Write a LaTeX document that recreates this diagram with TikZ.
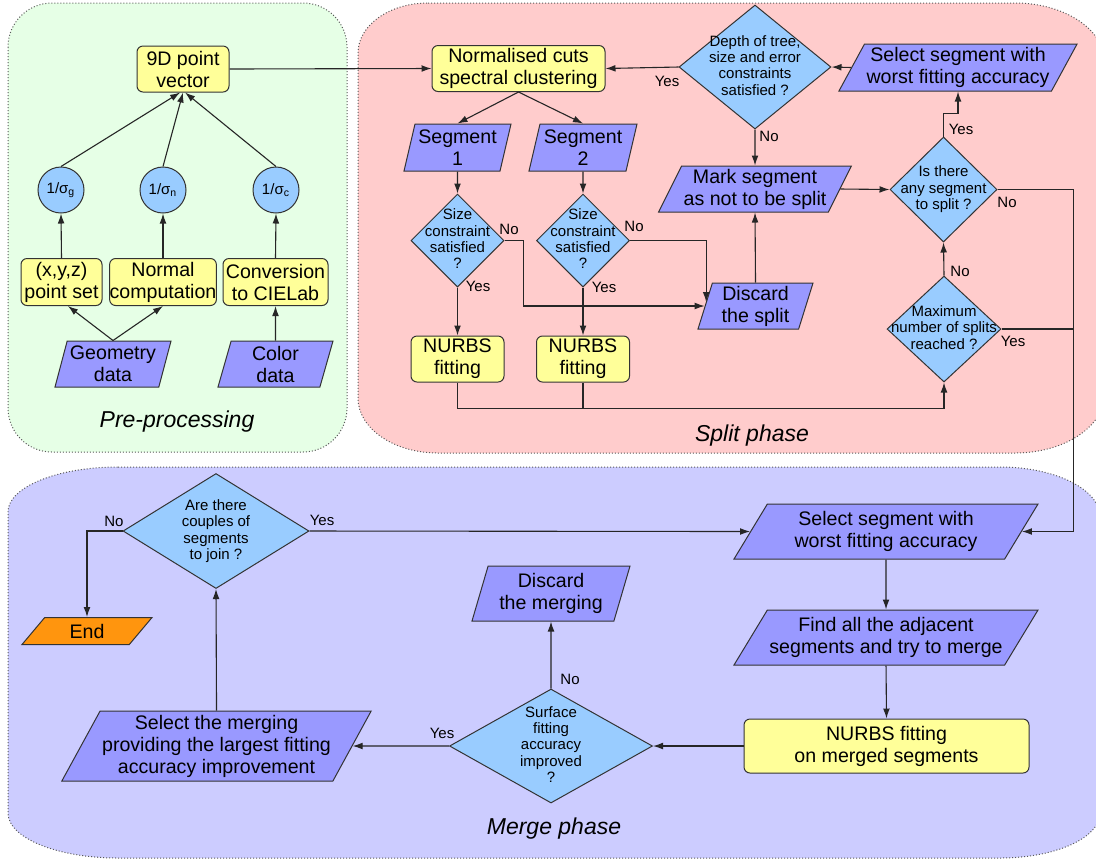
\documentclass[tikz,border=0pt]{standalone}
\usepackage{fontspec}
\setmainfont{Liberation Sans}
\definecolor{cProcess}{HTML}{FFFF99}
\definecolor{cData}{HTML}{9999FF}
\definecolor{cDecision}{HTML}{99CCFF}
\definecolor{cEnd}{HTML}{FF950E}
\definecolor{cPre}{HTML}{E6FFE6}
\definecolor{cSplit}{HTML}{FFCCCC}
\definecolor{cMerge}{HTML}{CCCCFF}
\usepackage{tikz}
\usetikzlibrary{arrows.meta,calc,shapes.geometric}
\newcommand{\decisiontext}[1]{\makebox[0pt]{\smash{\raisebox{-2pt}{\begin{tabular}[c]{@{}c@{}}#1\end{tabular}}}}}

\begin{document}
\begin{tikzpicture}[x=0.5pt, y=-0.5pt, font=\fontsize{9.8}{11}\selectfont,
  box/.style={draw=black!80, line width=0.5pt, align=center, inner sep=1pt},
  process/.style={box, rectangle, rounded corners=3pt, fill=cProcess},
  iobox/.style={box, trapezium, trapezium stretches body, trapezium left angle=#1, trapezium right angle={180-#1}, fill=cData},
  decision/.style={box, diamond, inner sep=0pt, fill=cDecision, font=\fontsize{7.5}{8.2}\selectfont},
  weight/.style={box, circle, minimum size=23pt, fill=cDecision, font=\fontsize{7.5}{9}\selectfont},
  answer/.style={inner sep=0pt, font=\fontsize{7.5}{9}\selectfont},
  phasename/.style={inner sep=0pt, font=\fontsize{11.5}{13}\selectfont\itshape},
  region/.style={draw=black!65, densely dotted, line width=0.5pt},
  flow/.style={draw=black!85, line width=0.55pt, -{Latex[length=5pt,width=3.4pt]}},
  link/.style={draw=black!85, line width=0.55pt}]
\useasboundingbox (0,0) rectangle (1096,859);

\path[region, fill=cPre, rounded corners=22pt] (8,3) rectangle (347,452);
\path[region, fill=cSplit] (428,3) -- (1015,3) arc[start angle=270, end angle=360, x radius=90, y radius=60] -- (1105,393) arc[start angle=0, end angle=90, x radius=90, y radius=60] -- (438,453) arc[start angle=90, end angle=180, x radius=80, y radius=55] -- (358,53) arc[start angle=180, end angle=270, x radius=70, y radius=50] -- cycle;
\path[region, fill=cMerge] (118,467) -- (1000,467) arc[start angle=270, end angle=360, x radius=100, y radius=50] -- (1100,813) arc[start angle=0, end angle=90, x radius=100, y radius=45] -- (118,858) arc[start angle=90, end angle=180, x radius=110, y radius=45] -- (8,512) arc[start angle=180, end angle=270, x radius=110, y radius=45] -- cycle;

% pre-processing
\node[process, minimum width=46pt, minimum height=23pt] (vec9d) at (183,69) {9D point\\vector};
\node[weight] (sigg) at (61,190) {1/σ\textsubscript{g}};
\node[weight] (sign) at (163,190) {1/σ\textsubscript{n}};
\node[weight] (sigc) at (276,190) {1/σ\textsubscript{c}};
\node[process, minimum width=40.5pt, minimum height=23.5pt] (xyz) at (61.5,282) {(x,y,z)\\point set};
\node[process, minimum width=52pt, minimum height=23.5pt, inner xsep=0pt] (normal) at (163,282) {Normal\\computation};
\node[process, minimum width=52.5pt, minimum height=23.5pt] (cielab) at (275.5,282) {Conversion\\to CIELab};
\node[iobox=73, minimum width=58pt, minimum height=23pt] (geom) at (113,364) {Geometry\\data};
\node[iobox=72, minimum width=57.5pt, minimum height=23pt] (color) at (275.5,364) {Color\\data};
\node[phasename] (prelabel) at (177,422) {Pre-processing};

% split phase
\node[process, minimum width=86.5pt, minimum height=23pt] (ncut) at (518.5,68.5) {Normalised cuts\\spectral clustering};
\node[decision, minimum width=76pt, minimum height=62pt] (depth) at (755,67) {\decisiontext{Depth of tree,\\size and error\\constraints\\satisfied ?}};
\node[iobox=60, minimum width=115pt, minimum height=23.5pt] (seltop) at (958,67.5) {Select segment with\\worst fitting accuracy};
\node[iobox=74.5, minimum width=53.5pt, minimum height=23.5pt] (seg1) at (457.5,147.5) {Segment\\1};
\node[iobox=74.5, minimum width=54pt, minimum height=23.5pt] (seg2) at (583,147.5) {Segment\\2};
\node[decision, minimum width=46.5pt, minimum height=46.5pt] (size1) at (457.5,240.5) {\decisiontext{Size\\constraint\\satisfied\\?}};
\node[decision, minimum width=46.5pt, minimum height=46.5pt] (size2) at (583,240.5) {\decisiontext{Size\\constraint\\satisfied\\?}};
\node[process, minimum width=46.5pt, minimum height=23pt] (nurbs1) at (457.5,359) {NURBS\\fitting};
\node[process, minimum width=46.5pt, minimum height=23pt] (nurbs2) at (583,359) {NURBS\\fitting};
\node[iobox=72, minimum width=57.5pt, minimum height=23pt] (discsplit) at (755.5,306) {Discard\\the split};
\node[iobox=62.5, minimum width=92pt, minimum height=23pt] (mark) at (755,189) {Mark segment\\as not to be split};
\node[decision, minimum width=53.5pt, minimum height=52.5pt] (anyseg) at (943.5,189.5) {\decisiontext{Is there\\any segment\\to split ?}};
\node[decision, minimum width=57pt, minimum height=53pt] (maxsplit) at (944,329) {\decisiontext{Maximum\\number of splits\\reached ?}};
\node[phasename] (splitlabel) at (752,436) {Split phase};
\node[answer] (depthyes) at (667,81) {Yes};
\node[answer] (depthno) at (769,136) {No};
\node[answer] (size1no) at (509,229) {No};
\node[answer] (size1yes) at (478,286) {Yes};
\node[answer] (size2no) at (634,226) {No};
\node[answer] (size2yes) at (604,287) {Yes};
\node[answer] (anysegyes) at (961,129) {Yes};
\node[answer] (anysegno) at (1007,202) {No};
\node[answer] (maxsplitno) at (960,271) {No};
\node[answer] (maxsplityes) at (1013,341) {Yes};

% merge phase
\node[decision, minimum width=93pt, minimum height=57.5pt] (couples) at (216,531) {\decisiontext{Are there\\couples of\\segments\\to join ?}};
\node[iobox=39, minimum width=65pt, minimum height=13.5pt, fill=cEnd] (endnode) at (87,631) {End};
\node[iobox=60, minimum width=150.5pt, minimum height=35pt] (selmerge) at (216.5,746) {Select the merging\\providing the largest fitting\\accuracy improvement};
\node[decision, minimum width=101.5pt, minimum height=57pt] (surface) at (551,746) {\decisiontext{Surface\\fitting\\accuracy\\improved\\?}};
\node[iobox=70, minimum width=79pt, minimum height=27.5pt] (discmerge) at (551,593.5) {Discard\\the merging};
\node[iobox=53, minimum width=152pt, minimum height=27.5pt] (selworst) at (886,531.5) {Select segment with\\worst fitting accuracy};
\node[iobox=53, minimum width=152pt, minimum height=27.5pt] (findadj) at (886,637.5) {Find all the adjacent\\segments and try to merge};
\node[process, minimum width=142.5pt, minimum height=27pt] (nurbsm) at (886.5,746) {NURBS fitting\\on merged segments};
\node[phasename] (mergelabel) at (554,829) {Merge phase};
\node[answer] (couplesno) at (114,521) {No};
\node[answer] (couplesyes) at (322,520) {Yes};
\node[answer] (surfaceno) at (570,679) {No};
\node[answer] (surfaceyes) at (442,733) {Yes};

\draw[flow] (geom.north) -- (xyz.-75);
\draw[flow] (geom.north) -- (normal.south);
\draw[flow] (color.north) -- (cielab.south);
\draw[flow] (xyz.north) -- (sigg.south);
\draw[flow] (normal.north) -- (sign.south);
\draw[flow] (cielab.north) -- (sigc.south);
\draw[flow] (sigg.north) -- (vec9d.-97);
\draw[flow] (sign.north) -- (vec9d.south);
\draw[flow] (sigc.north) -- (vec9d.-85);
\draw[flow] (vec9d.east) -- (ncut.west);
\draw[flow] (ncut.south) -- (seg1.north);
\draw[flow] (ncut.south) -- (seg2.north);
\draw[flow] (seg1.south) -- (size1.north);
\draw[flow] (seg2.south) -- (size2.north);
\draw[flow] (size1.south) -- (nurbs1.north);
\draw[flow] (size2.south) -- (nurbs2.north);
\draw[flow] (size1.east) -- ++(19,0) |- (discsplit.west);
\draw[flow] (size2.east) -| ($(discsplit.west)+(1.5,-4)$);
\draw[flow] (nurbs1.south) -- ++(0,26) -| (maxsplit.south);
\draw[link] (nurbs2.south) -- ++(0,26);
\draw[flow] (maxsplit.north) -- (anyseg.south);
\draw[link] (maxsplit.east) -- ++(72,0);
\draw[flow] (anyseg.north) -- ++(0,-23) -| (seltop.south);
\draw[flow] (seltop.west) -- (depth.east);
\draw[flow] (depth.west) -- (ncut.east);
\draw[flow] (depth.south) -- (mark.north);
\draw[flow] (discsplit.north) -- (mark.south);
\draw[flow] (mark.east) -- (anyseg.west);
\draw[flow] (anyseg.east) -- ++(76,0) |- (selworst.east);
\draw[flow] (couples.east) -- (selworst.west);
\draw[flow] (couples.west) -| (endnode.north);
\draw[flow] (selworst.south) -- (findadj.north);
\draw[flow] (findadj.south) -- (nurbsm.north);
\draw[flow] (nurbsm.west) -- (surface.east);
\draw[flow] (surface.west) -- (selmerge.east);
\draw[flow] (surface.north) -- (discmerge.south);
\draw[flow] (selmerge.north) -- (couples.south);
\end{tikzpicture}
\end{document}
